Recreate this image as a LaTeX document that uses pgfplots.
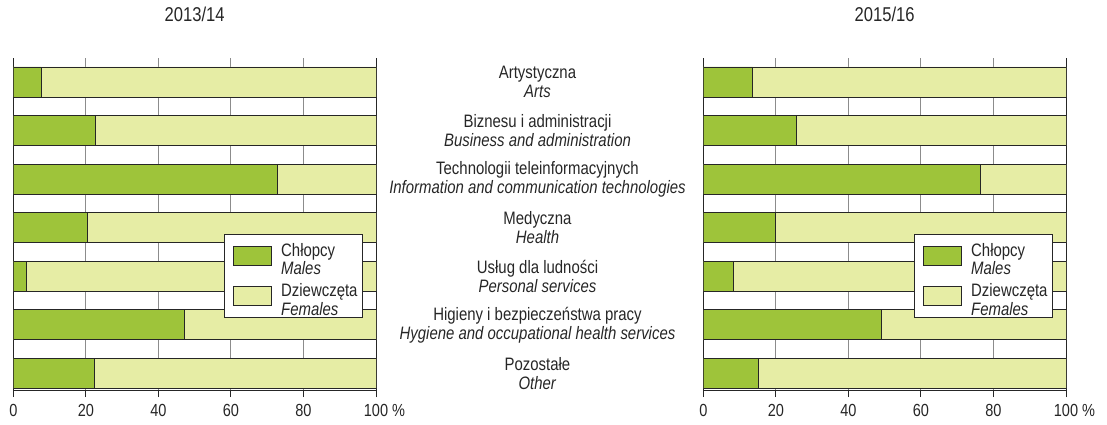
\documentclass[border=0pt]{standalone}
\usepackage{fontspec}
\setmainfont{Liberation Sans}[FakeStretch=0.83]
\usepackage{pgfplots}
\pgfplotsset{compat=1.18}

\definecolor{boys}{HTML}{9EC43A}
\definecolor{girls}{HTML}{E6EDA5}
\definecolor{ink}{HTML}{262626}

% one panel = one school year, shares every setting
\pgfplotsset{
  panel/.style={
    xbar stacked, bar width=30pt,
    scale only axis, width=362.7pt, height=332pt,
    xmin=0, xmax=100, ymin=-0.494, ymax=6.344, y dir=reverse,
    xtick={0,20,40,60,80,100},
    xticklabels={0,20,40,60,80,100\rlap{ \%}},
    extra x ticks={100}, extra x tick labels={},
    extra x tick style={grid style={ink, line width=0.8pt}},
    xmajorgrids, grid style={black!45, line width=0.9pt},
    axis x line*=bottom, axis y line*=left,
    axis line style={ink, line width=0.9pt, -},
    tick align=outside, major tick length=7pt,
    xtick style={ink, line width=0.9pt},
    ytick style={draw=none},
    ticklabel style={font=\fontsize{17.5}{18}\selectfont, text=ink},
    xticklabel style={yshift=-3.9pt},
    title style={font=\fontsize{20}{20}\selectfont, text=ink,
      anchor=center, at={(0.5,1)}, yshift=37.3pt},
    legend cell align=left,
    legend style={at={(rel axis cs:0.964,0.47)}, anchor=north east,
      draw=ink, line width=0.8pt, fill=white,
      font=\fontsize{18}{17.5}\selectfont, text=ink,
      nodes={inner sep=0pt},
      inner xsep=5pt, inner ysep=3.6pt, row sep=5.5pt, column sep=0pt},
  },
  bar/.style={draw=ink, line width=0.8pt, fill=#1,
    legend image code/.code={
      \path[draw=none, fill=none] (-4.4pt,-17.5pt) rectangle (47.7pt,17.5pt);
      \draw[##1, draw=ink, line width=0.8pt] (0pt,-9.5pt) rectangle (38pt,9.5pt);}},
}

\begin{document}
\begin{tikzpicture}
\useasboundingbox (0pt,0pt) rectangle (1107pt,-424pt);

\begin{axis}[panel, at={(13.3pt,-390pt)}, anchor=south west,
  title={2013/14}, ytick=\empty]
  \addplot[bar=boys] coordinates
    {(7.7,0) (22.5,1) (72.7,2) (20.5,3) (3.7,4) (47.1,5) (22.3,6)};
  \addplot[bar=girls] coordinates
    {(92.3,0) (77.5,1) (27.3,2) (79.5,3) (96.3,4) (52.9,5) (77.7,6)};
  \addlegendentry{\begin{tabular}{@{}l@{}}Chłopcy\\\textit{Males}\end{tabular}}
  \addlegendentry{\begin{tabular}{@{}l@{}}Dziewczęta\\\textit{Females}\end{tabular}}
\end{axis}

\begin{axis}[panel, at={(703.3pt,-390pt)}, anchor=south west,
  title={2015/16},
  ytick={0,...,6},
  yticklabels={
    {Artystyczna\\\textit{Arts}},
    {Biznesu i administracji\\\textit{Business and administration}},
    {Technologii teleinformacyjnych\\\textit{Information and communication technologies}},
    {Medyczna\\\textit{Health}},
    {Usług dla ludności\\\textit{Personal services}},
    {Higieny i bezpieczeństwa pracy\\\textit{Hygiene and occupational health services}},
    {Pozostałe\\\textit{Other}}},
  yticklabel style={align=center, anchor=center, xshift=-158.8pt,
    font=\fontsize{18}{19}\selectfont}]
  \addplot[bar=boys] coordinates
    {(13.6,0) (25.6,1) (76.5,2) (20.0,3) (8.3,4) (49.2,5) (15.1,6)};
  \addplot[bar=girls] coordinates
    {(86.4,0) (74.4,1) (23.5,2) (80.0,3) (91.7,4) (50.8,5) (84.9,6)};
  \addlegendentry{\begin{tabular}{@{}l@{}}Chłopcy\\\textit{Males}\end{tabular}}
  \addlegendentry{\begin{tabular}{@{}l@{}}Dziewczęta\\\textit{Females}\end{tabular}}
\end{axis}
\end{tikzpicture}
\end{document}
